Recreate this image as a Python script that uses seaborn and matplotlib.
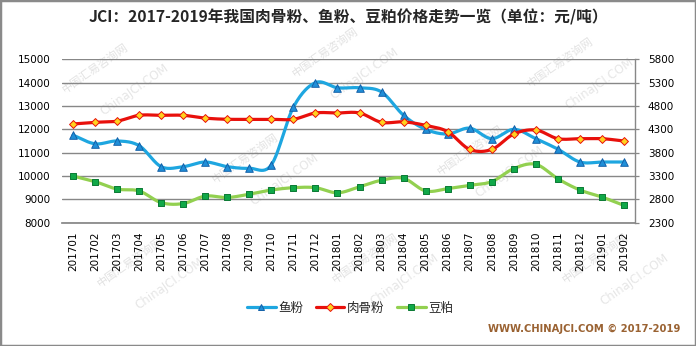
import numpy as np
import pandas as pd
import matplotlib
matplotlib.use("Agg")
import matplotlib.pyplot as plt
from matplotlib.lines import Line2D
from matplotlib.patches import Rectangle
import seaborn as sns

# Monthly prices, yuan per tonne
months = ["201701", "201702", "201703", "201704", "201705", "201706", "201707",
          "201708", "201709", "201710", "201711", "201712", "201801", "201802",
          "201803", "201804", "201805", "201806", "201807", "201808", "201809",
          "201810", "201811", "201812", "201901", "201902"]
fish_meal = [11750, 11380, 11500, 11300, 10400, 10400, 10600, 10400, 10330,
             10480, 12950, 14000, 13780, 13780, 13600, 12600, 12000, 11800,
             12050, 11600, 12000, 11600, 11150, 10600, 10600, 10600]
meat_bone_meal = [12230, 12300, 12350, 12600, 12600, 12600, 12480, 12430, 12430,
                  12430, 12430, 12700, 12700, 12700, 12300, 12320, 12170, 11900,
                  11140, 11140, 11800, 11970, 11600, 11600, 11600, 11500]
soybean_meal = [3300, 3180, 3020, 2980, 2730, 2710, 2870, 2840, 2910, 3000,
                3050, 3050, 2940, 3070, 3210, 3250, 2980, 3030, 3100, 3180,
                3460, 3550, 3240, 3000, 2850, 2670]

left_ticks = list(range(8000, 15001, 1000))
right_ticks = list(range(2300, 5801, 500))

title = "JCI：2017-2019年我国肉骨粉、鱼粉、豆粕价格走势一览（单位：元/吨）"
series_names = ["鱼粉", "肉骨粉", "豆粕"]
footer = "WWW.CHINAJCI.COM © 2017-2019"

CJK = ["Noto Sans CJK SC", "DejaVu Sans"]
GRID = "#878787"


def smooth(values, steps=24):
    """Cardinal (Catmull-Rom) curve through the points, in category units."""
    y = np.asarray(values, dtype=float)
    n = len(y)
    m = np.empty(n)
    m[1:-1] = (y[2:] - y[:-2]) / 2.0
    m[0] = y[1] - y[0]
    m[-1] = y[-1] - y[-2]
    xs, ys = [], []
    t = np.linspace(0, 1, steps, endpoint=False)
    h00 = 2 * t**3 - 3 * t**2 + 1
    h10 = t**3 - 2 * t**2 + t
    h01 = -2 * t**3 + 3 * t**2
    h11 = t**3 - t**2
    for i in range(n - 1):
        xs.append(i + t)
        ys.append(h00 * y[i] + h10 * m[i] + h01 * y[i + 1] + h11 * m[i + 1])
    xs.append(np.array([n - 1.0]))
    ys.append(np.array([y[-1]]))
    return np.concatenate(xs), np.concatenate(ys)


sns.set_theme(style="white")
plt.rcParams["font.family"] = ["DejaVu Sans", "Noto Sans CJK SC"]

fig = plt.figure(figsize=(6.96, 3.46), dpi=100)
fig.patch.set_facecolor("white")

# faint diagonal site watermark, kept behind the axes
marks = [(95, 68), (325, 52), (560, 62), (245, 158), (470, 150), (130, 262),
         (365, 258), (595, 258)]
for (px, py) in marks:
    fig.text(px / 696, 1 - py / 346, "中国汇易咨询网", rotation=35, fontsize=8,
             color="#e2e2e2", family=CJK, ha="center", va="center", zorder=-5)
    fig.text((px + 40) / 696, 1 - (py + 22) / 346, "ChinaJCI.COM", rotation=35,
             fontsize=8.5, color="#e6e6e6", ha="center", va="center", zorder=-5)

ax = fig.add_axes([62 / 696, 1 - 222.7 / 346, 573 / 696, 163.4 / 346])
ax.patch.set_alpha(0)
ax2 = ax.twinx()
ax2.patch.set_alpha(0)

x_idx = np.arange(len(months))

styles = [
    (fish_meal, ax, "#1ea6e0", "^", "#1f8fd8", "#1360a8", 30),
    (meat_bone_meal, ax, "#e8100c", "D", "#ffd21f", "#e8100c", 16),
    (soybean_meal, ax2, "#92d050", "s", "#10a848", "#0b7a34", 24),
]
for k, (vals, axis, lc, mk, mfc, mec, size) in enumerate(styles):
    sx, sy = smooth(vals)
    sns.lineplot(x=sx, y=sy, ax=axis, color=lc, lw=2.3, sort=False,
                 estimator=None, zorder=3 + k)
    sns.scatterplot(x=x_idx, y=vals, ax=axis, marker=mk, s=size, color=mfc,
                    edgecolor=mec, linewidth=0.7, zorder=4 + k)

ax.set_xlim(-0.5, len(months) - 0.5)
ax.set_ylim(8000, 15000)
ax.set_yticks(left_ticks)
ax.set_yticklabels([str(v) for v in left_ticks])
ax.set_xticks(x_idx)
ax.set_xticklabels(months, rotation=90)
ax.yaxis.grid(True, color=GRID, lw=1.0)
ax.xaxis.grid(False)
ax.set_axisbelow(True)
ax.tick_params(axis="y", length=0, pad=8.5, labelsize=7.5, colors="black")
ax.tick_params(axis="x", length=0, pad=6.5, labelsize=7.5, colors="black")
for side in ["left", "top", "right"]:
    ax.spines[side].set_visible(False)
ax.spines["bottom"].set_color(GRID)
ax.set_xlabel("")
ax.set_ylabel("")

ax2.set_ylim(2300, 5800)
ax2.set_yticks(right_ticks)
ax2.set_yticklabels([str(v) for v in right_ticks])
ax2.grid(False)
ax2.tick_params(axis="y", direction="out", length=3, width=0.9, color=GRID,
                pad=6.3, labelsize=7.5, labelcolor="black")
for side in ["left", "top", "bottom"]:
    ax2.spines[side].set_visible(False)
ax2.spines["right"].set_color(GRID)
ax2.spines["right"].set_linewidth(1.0)
ax2.set_ylabel("")

fig.text(0.5, 1 - 17 / 346, title, ha="center", va="center", fontsize=11.3,
         fontweight="bold", family=CJK)

handles = [
    Line2D([0], [0], color="#1ea6e0", lw=2.3, marker="^", markersize=5,
           markerfacecolor="#1f8fd8", markeredgecolor="#1360a8", markeredgewidth=0.7),
    Line2D([0], [0], color="#e8100c", lw=2.3, marker="D", markersize=4,
           markerfacecolor="#ffd21f", markeredgecolor="#e8100c", markeredgewidth=0.7),
    Line2D([0], [0], color="#92d050", lw=2.3, marker="s", markersize=5,
           markerfacecolor="#10a848", markeredgecolor="#0b7a34", markeredgewidth=0.7),
]
fig.legend(handles, series_names, loc="center", bbox_to_anchor=(350 / 696, 1 - 308 / 346),
           ncol=3, frameon=False, handlelength=2.3, handletextpad=0.2,
           columnspacing=1.0, prop={"family": CJK, "size": 9})

fig.text(680 / 696, 1 - 329 / 346, footer, ha="right", va="center", fontsize=7.2,
         fontweight="bold", color="#9a6232")

fig.patches.append(Rectangle((0, 0), 1, 1, transform=fig.transFigure, fill=False,
                             edgecolor="#8a8a8a", lw=2.5, zorder=10))

fig.savefig("out.png", dpi=100)
